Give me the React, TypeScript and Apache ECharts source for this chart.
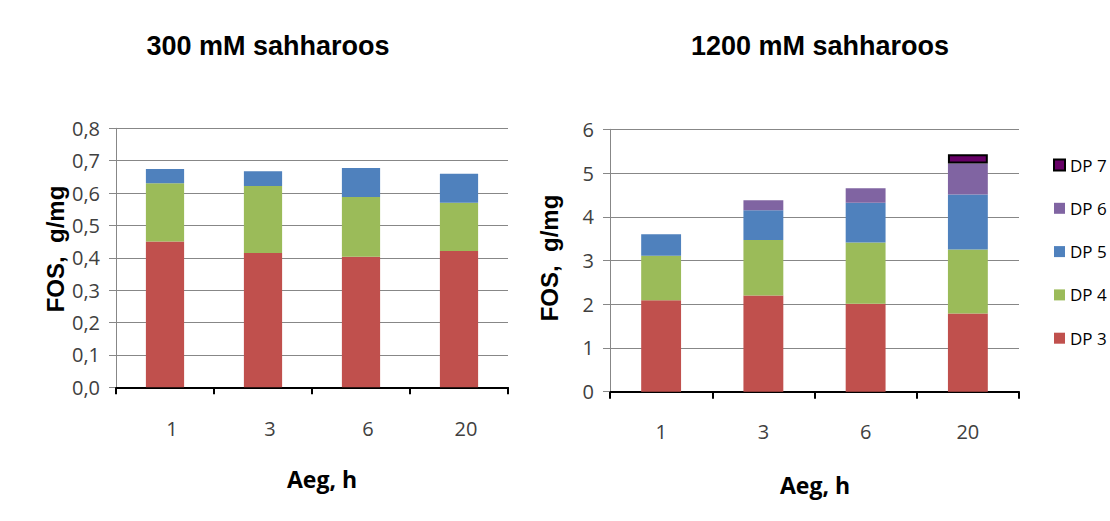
import React, { useEffect, useRef } from "react";
import * as echarts from "echarts";

const categories = ["1", "3", "6", "20"];

const leftDP3 = [0.45, 0.415, 0.403, 0.421];
const leftDP4 = [0.18, 0.207, 0.185, 0.149];
const leftDP5 = [0.044, 0.045, 0.089, 0.09];

const rightDP3 = [2.09, 2.2, 2.01, 1.79];
const rightDP4 = [1.02, 1.27, 1.4, 1.46];
const rightDP5 = [0.49, 0.68, 0.91, 1.26];
const rightDP6: (number | string)[] = ["-", 0.225, 0.33, 0.71];
const rightDP7: (number | string)[] = ["-", "-", "-", 0.21];

const legendNames = ["DP 7", "DP 6", "DP 5", "DP 4", "DP 3"];
const titles = ["300 mM sahharoos", "1200 mM sahharoos"];
const yName = "FOS,  g/mg";
const xName = "Aeg, h";

const COLORS: Record<string, string> = {
  "DP 3": "#C0504D",
  "DP 4": "#9BBB59",
  "DP 5": "#4F81BD",
  "DP 6": "#8064A2",
  "DP 7": "#660066",
};

const GRID = "#878787";
const LABEL = "#404040";
const LABEL_FONT = "'Open Sans', 'Noto Sans', sans-serif";

export default function App() {
  const ref = useRef<HTMLDivElement>(null);
  useEffect(() => {
    if (!ref.current) return;
    const chart = echarts.init(ref.current, undefined, { renderer: "svg" });

    const yAxisCommon = (min: number, max: number, interval: number, fmt: (v: number) => string) => ({
      type: "value" as const,
      min,
      max,
      interval,
      axisLine: { show: true, lineStyle: { color: GRID, width: 1 } },
      axisTick: { show: true, length: 7, lineStyle: { color: GRID, width: 1 } },
      splitLine: { show: true, lineStyle: { color: GRID, width: 1 } },
      axisLabel: {
        color: LABEL,
        fontSize: 20,
        fontFamily: LABEL_FONT,
        margin: 16,
        formatter: fmt,
      },
    });

    const xAxisCommon = (gridIndex: number, margin: number, shift: number) => ({
      type: "category" as const,
      gridIndex,
      data: categories,
      axisLine: { show: true, lineStyle: { color: "#000", width: 2 } },
      axisTick: { show: true, length: 7, lineStyle: { color: "#000", width: 2 } },
      axisLabel: {
        color: LABEL,
        fontSize: 20,
        fontFamily: LABEL_FONT,
        margin,
        padding: [0, 0, 0, shift],
      },
    });

    const bar = (name: string, data: (number | string)[], xi: number, stack: string, extra: any = {}) => ({
      type: "bar" as const,
      name,
      data,
      xAxisIndex: xi,
      yAxisIndex: xi,
      stack,
      barWidth: "39%",
      itemStyle: { color: COLORS[name], ...extra },
    });

    chart.setOption({
      animation: false,
      backgroundColor: "#fff",
      grid: [
        { left: 116, top: 128.3, width: 392, height: 259 },
        { left: 610, top: 129.3, width: 409, height: 262.4 },
      ],
      xAxis: [xAxisCommon(0, 31, 14), xAxisCommon(1, 30, 0)],
      yAxis: [
        { gridIndex: 0, ...yAxisCommon(0, 0.8, 0.1, (v: number) => v.toFixed(1).replace(".", ",")) },
        { gridIndex: 1, ...yAxisCommon(0, 6, 1, (v: number) => String(v)) },
      ],
      legend: {
        orient: "vertical",
        left: 1048,
        top: 151.5,
        itemWidth: 11,
        itemHeight: 11,
        itemGap: 26.3,
        selectedMode: false,
        icon: "rect",
        textStyle: {
          color: "#000",
          fontSize: 17,
          lineHeight: 17,
          fontFamily: LABEL_FONT,
          padding: [0, 0, 0, 0],
        },
        data: legendNames.map((n) =>
          n === "DP 7"
            ? { name: n, itemStyle: { color: COLORS[n], borderColor: "#000", borderWidth: 2 } }
            : { name: n, itemStyle: { color: COLORS[n], borderWidth: 0 } }
        ),
      },
      series: [
        bar("DP 3", leftDP3, 0, "L"),
        bar("DP 4", leftDP4, 0, "L"),
        bar("DP 5", leftDP5, 0, "L"),
        bar("DP 3", rightDP3, 1, "R"),
        bar("DP 4", rightDP4, 1, "R"),
        bar("DP 5", rightDP5, 1, "R"),
        bar("DP 6", rightDP6, 1, "R"),
        bar("DP 7", rightDP7, 1, "R", { borderColor: "#000", borderWidth: 2 }),
      ],
      graphic: [
        {
          type: "text",
          x: 268,
          y: 46,
          style: {
            text: titles[0],
            font: "bold 27px 'Liberation Sans', Arial, sans-serif",
            fill: "#000",
            align: "center",
            verticalAlign: "middle",
          },
        },
        {
          type: "text",
          x: 820,
          y: 46,
          style: {
            text: titles[1],
            font: "bold 27px 'Liberation Sans', Arial, sans-serif",
            fill: "#000",
            align: "center",
            verticalAlign: "middle",
          },
        },
        {
          type: "text",
          x: 55,
          y: 249,
          rotation: Math.PI / 2,
          style: {
            text: yName,
            font: "bold 24px 'Liberation Sans', Arial, sans-serif",
            fill: "#000",
            align: "center",
            verticalAlign: "middle",
          },
        },
        {
          type: "text",
          x: 549,
          y: 258,
          rotation: Math.PI / 2,
          style: {
            text: yName,
            font: "bold 24px 'Liberation Sans', Arial, sans-serif",
            fill: "#000",
            align: "center",
            verticalAlign: "middle",
          },
        },
        {
          type: "text",
          x: 322,
          y: 479,
          style: {
            text: xName,
            font: "bold 23px 'Open Sans', 'Noto Sans', sans-serif",
            fill: "#000",
            align: "center",
            verticalAlign: "middle",
          },
        },
        {
          type: "text",
          x: 815,
          y: 485,
          style: {
            text: xName,
            font: "bold 23px 'Open Sans', 'Noto Sans', sans-serif",
            fill: "#000",
            align: "center",
            verticalAlign: "middle",
          },
        },
      ],
    });

    return () => chart.dispose();
  }, []);

  return (
    <div
      ref={ref}
      style={{ position: "fixed", left: 0, top: 0, width: 1110, height: 521, background: "#fff" }}
    />
  );
}
